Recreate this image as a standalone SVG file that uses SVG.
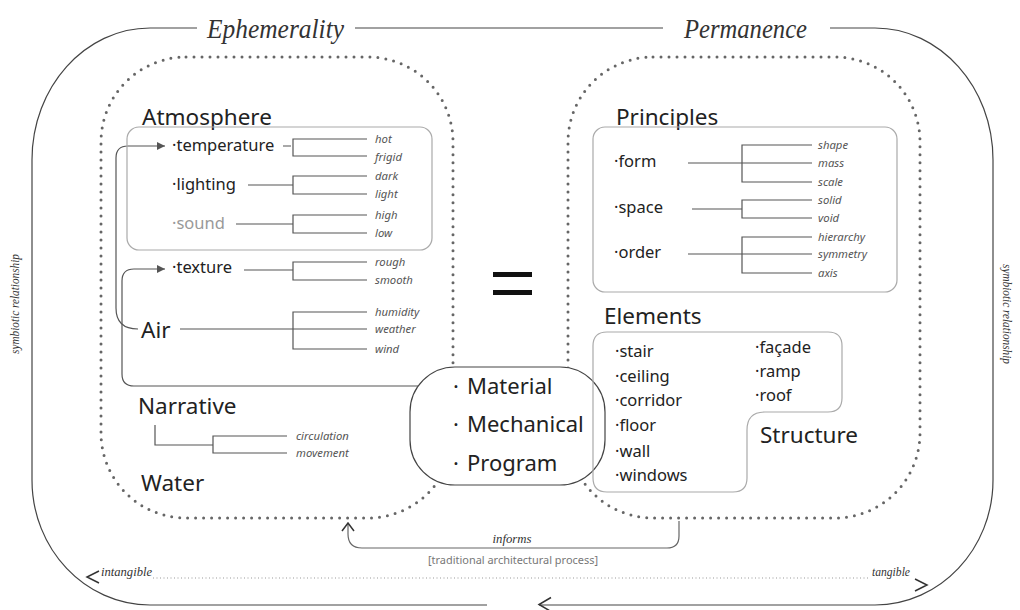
<svg xmlns="http://www.w3.org/2000/svg" width="1020" height="610" viewBox="0 0 1020 610">
<style>
.sans{font-family:"Noto Sans","DejaVu Sans",sans-serif;fill:#222}
.head{font-size:22.5px}
.item{font-size:16.5px}
.big{font-size:22px}
.lbl{font-family:"Noto Sans","DejaVu Sans",sans-serif;font-style:italic;font-size:11.3px;fill:#555}
.ser{font-family:"Liberation Serif","Times New Roman",serif;font-style:italic;fill:#333}
.ln{fill:none;stroke:#555;stroke-width:1.2}
.outer{fill:none;stroke:#444;stroke-width:1.2}
.dot{fill:none;stroke:#666;stroke-width:3;stroke-dasharray:0 8;stroke-linecap:round}
.box{fill:none;stroke:#aaa;stroke-width:1.2}
.chev{fill:none;stroke:#333;stroke-width:1.5}
</style>
<defs>
<marker id="tri" viewBox="0 0 10 10" refX="10" refY="5" markerWidth="8" markerHeight="8" orient="auto" markerUnits="userSpaceOnUse"><path d="M0,0 L10,5 L0,10 z" fill="#555"/></marker>
<marker id="open" viewBox="0 0 10 14" refX="9" refY="7" markerWidth="10" markerHeight="14" orient="auto" markerUnits="userSpaceOnUse"><path d="M1,1 L9,7 L1,13" fill="none" stroke="#333" stroke-width="1.5"/></marker>
</defs>
<rect width="1020" height="610" fill="#fff"/>

<g id="frame">
<path class="outer" d="M197 28 L150 28 C85 28 32 87 32 160 L32 480 C32 549 85 605 150 605 L487 605"/>
<path class="outer" d="M355 28 L663 28"/>
<path class="outer" d="M830 28 L875 28 C940 28 993 87 993 160 L993 480 C993 549 940 605 875 605 L539 605"/>
<path class="chev" d="M551 597.5 L539 604.5 L551 611.5"/>
<text class="ser" x="207" y="38" font-size="28" textLength="137" lengthAdjust="spacingAndGlyphs">Ephemerality</text>
<text class="ser" x="684" y="38" font-size="28" textLength="123" lengthAdjust="spacingAndGlyphs">Permanence</text>
<text class="ser" font-size="12" fill="#555" text-anchor="middle" transform="translate(19,304) rotate(-90)" textLength="100" lengthAdjust="spacingAndGlyphs">symbiotic relationship</text>
<text class="ser" font-size="12" fill="#555" text-anchor="middle" transform="translate(1003,314) rotate(90)" textLength="100" lengthAdjust="spacingAndGlyphs">symbiotic relationship</text>
<path d="M153 578 L870 578" fill="none" stroke="#999" stroke-width="1.2" stroke-dasharray="1 2.5"/>
<path class="chev" d="M99 571 L87 577 L99 583"/>
<path class="chev" d="M915 579 L927 585 L915 591"/>
<text class="ser" x="101" y="576" font-size="13" textLength="51" lengthAdjust="spacingAndGlyphs">intangible</text>
<text class="ser" x="872" y="576" font-size="13" textLength="38" lengthAdjust="spacingAndGlyphs">tangible</text>
</g>

<g id="ephemerality-panel">
<rect class="dot" x="101" y="57" width="352" height="461" rx="85" ry="85"/>
</g>
<g id="permanence-panel">
<rect class="dot" x="568" y="57" width="352" height="461" rx="85" ry="85"/>
</g>

<g id="connectors">
<path class="ln" d="M138 329 Q116 329 116 308 L116 158 Q116 146 128 146 L165 146" marker-end="url(#tri)"/>
<path class="ln" d="M440 386 L134 386 Q122 386 122 374 L122 281 Q122 269 134 269 L165 269" marker-end="url(#tri)"/>
<path d="M679 521 L679 536 Q679 548 667 548 L362 548 Q348 548 348 534 L348 523" fill="none" stroke="#666" stroke-width="1.2" marker-end="url(#open)"/>
<text class="ser" x="512" y="543" font-size="13.5" text-anchor="middle" textLength="39" lengthAdjust="spacingAndGlyphs">informs</text>
<text class="sans" x="513" y="564" font-size="10" style="fill:#777" text-anchor="middle" textLength="170" lengthAdjust="spacingAndGlyphs">[traditional architectural process]</text>
</g>

<g id="atmosphere">
<text class="sans head" x="142" y="125">Atmosphere</text>
<rect class="box" x="127" y="127" width="305" height="123" rx="12"/>
<text class="sans item" x="172" y="151">·temperature</text>
<path class="ln" d="M283 146 L291 146 M367 139 L293 139 L293 156 L367 156"/>
<text class="lbl" x="375" y="143">hot</text>
<text class="lbl" x="375" y="161">frigid</text>
<text class="sans item" x="172" y="190">·lighting</text>
<path class="ln" d="M248 185 L293 185 M367 176 L293 176 L293 194 L367 194"/>
<text class="lbl" x="375" y="180">dark</text>
<text class="lbl" x="375" y="198">light</text>
<text class="sans item" x="172" y="229" style="fill:#999">·sound</text>
<path class="ln" d="M236 224 L293 224 M367 215 L293 215 L293 233 L367 233"/>
<text class="lbl" x="375" y="219">high</text>
<text class="lbl" x="375" y="237">low</text>
</g>

<g id="texture">
<text class="sans item" x="172" y="273">·texture</text>
<path class="ln" d="M244 270 L293 270 M367 262 L293 262 L293 280 L367 280"/>
<text class="lbl" x="375" y="266">rough</text>
<text class="lbl" x="375" y="284">smooth</text>
</g>

<g id="air">
<text class="sans head" x="141" y="338">Air</text>
<path class="ln" d="M180 329 L367 329 M367 312 L293 312 L293 349 L367 349"/>
<text class="lbl" x="375" y="316">humidity</text>
<text class="lbl" x="375" y="333">weather</text>
<text class="lbl" x="375" y="353">wind</text>
</g>

<g id="narrative">
<text class="sans head" x="138" y="414">Narrative</text>
<path class="ln" d="M155 425 L155 445 L213 445 M287 436 L213 436 L213 453 L287 453"/>
<text class="lbl" x="296" y="440">circulation</text>
<text class="lbl" x="296" y="457">movement</text>
</g>

<g id="water">
<text class="sans head" x="141" y="491">Water</text>
</g>

<g id="equals">
<rect x="493" y="272" width="39" height="5" fill="#111"/>
<rect x="493" y="290" width="39" height="5" fill="#111"/>
</g>

<g id="principles">
<text class="sans head" x="616" y="125">Principles</text>
<rect class="box" x="593" y="127" width="304" height="165" rx="12"/>
<text class="sans item" x="614" y="167">·form</text>
<path class="ln" d="M688 163 L812 163 M812 145 L742 145 L742 182 L812 182"/>
<text class="lbl" x="818" y="149">shape</text>
<text class="lbl" x="818" y="167">mass</text>
<text class="lbl" x="818" y="186">scale</text>
<text class="sans item" x="614" y="213">·space</text>
<path class="ln" d="M692 209 L742 209 M812 200 L742 200 L742 218 L812 218"/>
<text class="lbl" x="818" y="204">solid</text>
<text class="lbl" x="818" y="222">void</text>
<text class="sans item" x="614" y="258">·order</text>
<path class="ln" d="M688 254 L812 254 M812 237 L742 237 L742 273 L812 273"/>
<text class="lbl" x="818" y="241">hierarchy</text>
<text class="lbl" x="818" y="258">symmetry</text>
<text class="lbl" x="818" y="277">axis</text>
</g>

<g id="mmp">
<rect x="410" y="367" width="195" height="118" rx="45" ry="45" fill="#fff" stroke="#444" stroke-width="1.2"/>
<text class="sans big" x="453" y="394">·</text><text class="sans big" x="467" y="394">Material</text>
<text class="sans big" x="453" y="432">·</text><text class="sans big" x="467" y="432">Mechanical</text>
<text class="sans big" x="453" y="471">·</text><text class="sans big" x="467" y="471">Program</text>
</g>

<g id="elements">
<text class="sans head" x="604" y="324">Elements</text>
<path class="box" d="M607 332 L828 332 Q842 332 842 346 L842 398 Q842 412 828 412 L765 412 Q747 412 747 430 L747 478 Q747 492 733 492 L607 492 Q593 492 593 478 L593 346 Q593 332 607 332 Z"/>
<text class="sans item" x="615" y="357">·stair</text>
<text class="sans item" x="615" y="382">·ceiling</text>
<text class="sans item" x="615" y="406">·corridor</text>
<text class="sans item" x="615" y="431">·floor</text>
<text class="sans item" x="615" y="457">·wall</text>
<text class="sans item" x="615" y="481">·windows</text>
<text class="sans item" x="755" y="353">·façade</text>
<text class="sans item" x="755" y="377">·ramp</text>
<text class="sans item" x="755" y="401">·roof</text>
</g>

<g id="structure">
<text class="sans head" x="760" y="443">Structure</text>
</g>
</svg>
